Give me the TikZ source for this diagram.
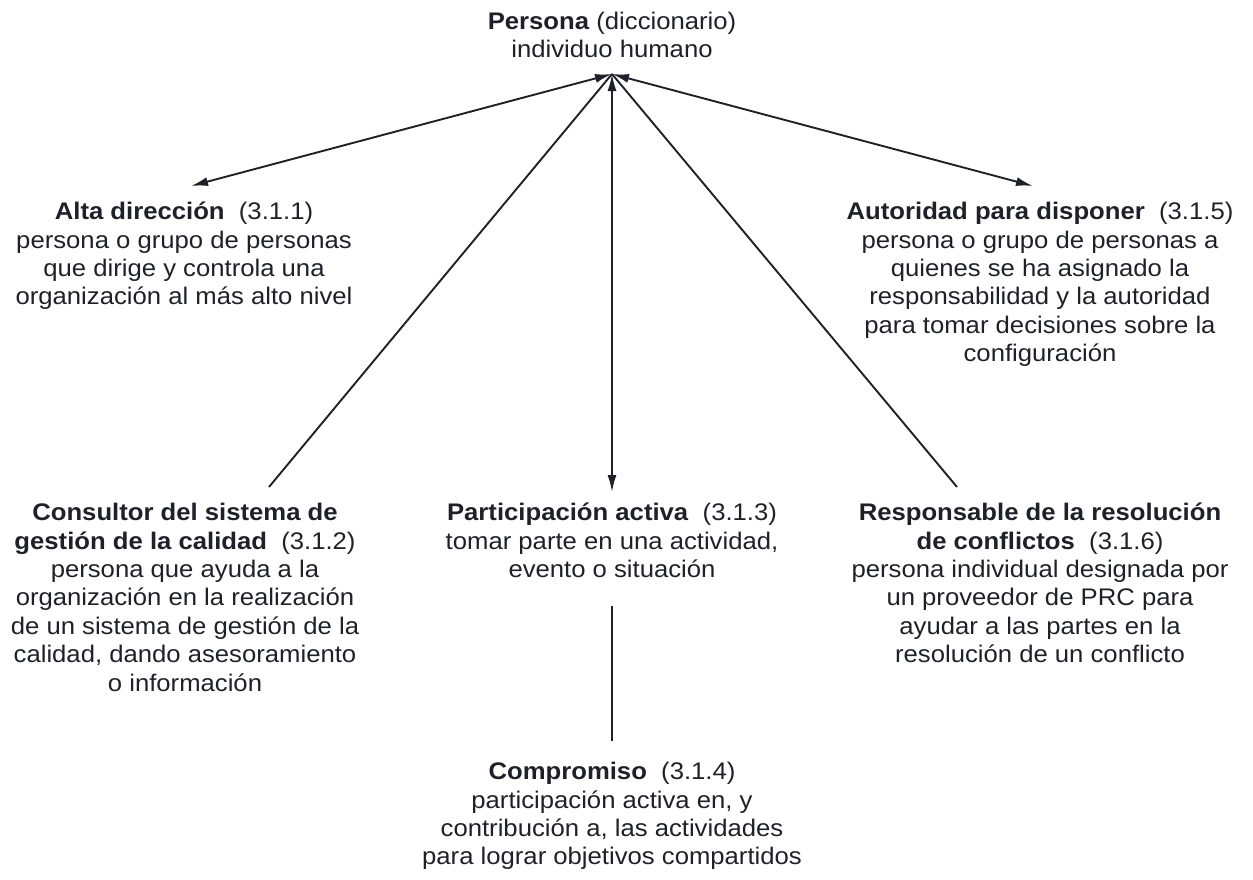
\documentclass[tikz,border=0pt]{standalone}
\usepackage{fontspec}
\setmainfont{Liberation Sans}[FakeStretch=1.07]
\usetikzlibrary{arrows.meta}
\definecolor{ink}{RGB}{30,33,40}
\newcommand{\topstrut}{\rule{0pt}{24pt}}
\tikzset{
  lbl/.style={anchor=north, inner sep=0pt, align=center, text=ink,
    font=\fontsize{24pt}{28.4pt}\selectfont},
  conn/.style={draw=ink, line width=1.9pt},
  tips/.style={{Latex[length=17pt,width=9pt]}-{Latex[length=17pt,width=9pt]}}
}
\begin{document}
\begin{tikzpicture}[x=1pt,y=-1pt]
\useasboundingbox (0,0) rectangle (1253,879);

\node[lbl] (persona) at (612,5) {\topstrut\textbf{Persona} (diccionario)\\individuo humano};
\node[lbl] (alta) at (184,195.5) {\topstrut\textbf{Alta dirección}~~(3.1.1)\\persona o grupo de personas\\que dirige y controla una\\organización al más alto nivel};
\node[lbl] (autoridad) at (1040,195.5) {\topstrut\textbf{Autoridad para disponer}~~(3.1.5)\\persona o grupo de personas a\\quienes se ha asignado la\\responsabilidad y la autoridad\\para tomar decisiones sobre la\\configuración};
\node[lbl] (consultor) at (185,496.5) {\topstrut\textbf{Consultor del sistema de}\\\textbf{gestión de la calidad}~~(3.1.2)\\persona que ayuda a la\\organización en la realización\\de un sistema de gestión de la\\calidad, dando asesoramiento\\o información};
\node[lbl] (particip) at (612,496.5) {\topstrut\textbf{Participación activa}~~(3.1.3)\\tomar parte en una actividad,\\evento o situación};
\node[lbl] (respons) at (1040,496.5) {\topstrut\textbf{Responsable de la resolución}\\\textbf{de conflictos}~~(3.1.6)\\persona individual designada por\\un proveedor de PRC para\\ayudar a las partes en la\\resolución de un conflicto};
\node[lbl] (compromiso) at (612,755.5) {\topstrut\textbf{Compromiso}~~(3.1.4)\\participación activa en, y\\contribución a, las actividades\\para lograr objetivos compartidos};

\coordinate (apex) at (612,74);
\coordinate (altaEnd) at (191,186);
\coordinate (autEnd) at (1033,186);
\coordinate (consEnd) at (269,487);
\coordinate (respEnd) at (957,487);
\coordinate (partEnd) at (612,492);
\coordinate (compTop) at (612,606);
\coordinate (compBot) at (612,741);

\draw[conn] (apex) -- (consEnd);
\draw[conn] (apex) -- (respEnd);
\draw[conn,tips] (apex) -- (altaEnd);
\draw[conn,tips] (apex) -- (autEnd);
\draw[conn,tips] (apex) -- (partEnd);
\draw[conn] (compTop) -- (compBot);
\end{tikzpicture}
\end{document}
